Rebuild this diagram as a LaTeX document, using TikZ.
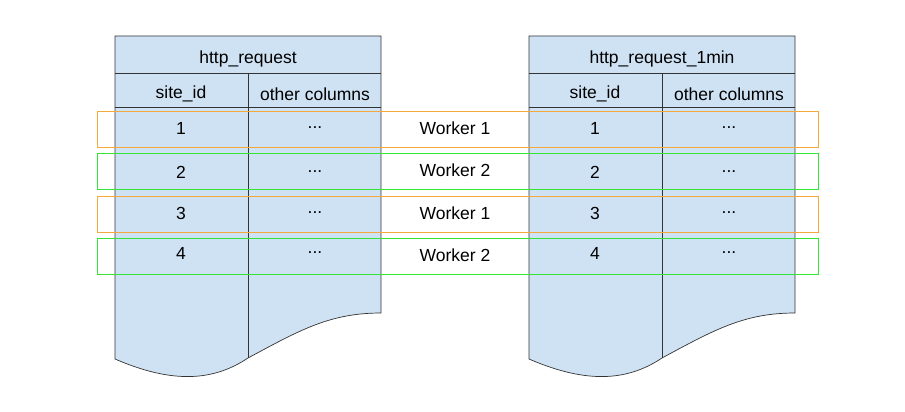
\documentclass[tikz,border=0pt]{standalone}
\usepackage{fontspec}
\setmainfont{Liberation Sans}
\definecolor{tb}{HTML}{CFE2F3}
\definecolor{org}{HTML}{F6A93B}
\definecolor{grn}{HTML}{33E633}
\begin{document}
\begin{tikzpicture}[x=1pt,y=-1pt,
  tbl/.style={fill=tb,draw=black!80,line width=0.7pt},
  ln/.style={draw=black!80,line width=0.7pt},
  lbl/.style={font=\fontsize{17.5}{20}\selectfont,inner sep=0pt},
  ob/.style={draw=org,line width=0.8pt},
  gb/.style={draw=grn,line width=0.8pt}]
\useasboundingbox (0,0) rectangle (905,412);
\foreach \x/\n/\t in {115/L/http\_request,529/R/http\_request\_1min}{
  \begin{scope}[xshift=\x]
  \path[tbl] (0,36) -- (266,36) -- (266,313) .. controls (215,313) and (185,330) .. (133,358)
     .. controls (100,380) and (60,385) .. (0,359) -- cycle;
  \draw[ln] (0,73) -- (266,73);
  \draw[ln] (0,107) -- (266,107);
  \draw[ln] (133,73) -- (133,358);
  \node[lbl] (\n h) at (133,59) {\t};
  \node[lbl] (\n a) at (66,94) {site\_id};
  \node[lbl] (\n b) at (200,94) {other columns};
  \foreach \i/\y in {1/128,2/172,3/213,4/253}{
    \node[lbl] (\n n\i) at (66,\y) {\i};
    \node[lbl] (\n d\i) at (200,\y) {...};
  }
  \end{scope}
}
\draw[ob] (97,111) rectangle (818,147);
\draw[gb] (97,153) rectangle (818,189);
\draw[ob] (97,196) rectangle (818,232);
\draw[gb] (97,238) rectangle (818,274);
\node[lbl] (w1) at (455,128) {Worker 1};
\node[lbl] (w2) at (455,170) {Worker 2};
\node[lbl] (w3) at (455,213) {Worker 1};
\node[lbl] (w4) at (455,255) {Worker 2};
\end{tikzpicture}
\end{document}
